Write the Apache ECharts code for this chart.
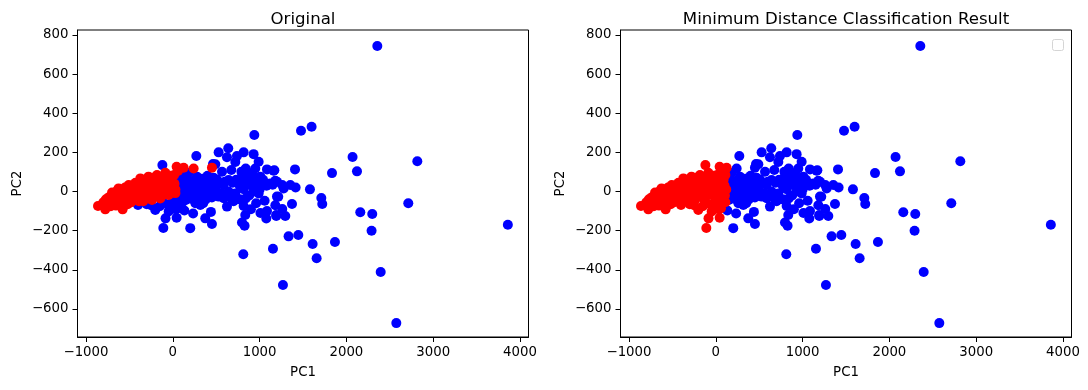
<!DOCTYPE html>
<html><head><meta charset="utf-8">
<style>html,body{margin:0;padding:0;background:#fff}#c{width:1088px;height:390px}</style>
<script src="https://cdn.jsdelivr.net/npm/echarts@6/dist/echarts.min.js"></script>
</head><body><div id="c"></div>
<script>
const xTicks=[-1000,0,1000,2000,3000,4000];
const yTicks=[-600,-400,-200,0,200,400,600,800];
const titles=['Original','Minimum Distance Classification Result'];
const xName='PC1', yName='PC2';
// blue under both panels
const blueBoth=[[2356,743],[3860,-170],[2817,155],[2713,-60],[2395,-411],[2575,-672],
[1477,310],[1599,331],[2071,176],[2122,103],[1834,94],[1408,113],[1161,106],[1580,11],[1415,21],[1354,33],[1261,33],[1277,16],[1181,55],[1150,35],[1215,-27],[1711,-33],[1722,-64],[1373,-64],[1181,-70],[1261,-89],[1192,-125],[1296,-125],[2160,-106],[2298,-115],[2290,-200],[1334,-229],[1446,-222],[1154,-292],[1611,-268],[1868,-258],[1657,-341],[1269,-477],
[939,289],[271,181],[528,200],[639,221],[624,175],[739,181],[720,151],[816,200],[931,191],[989,152],[950,118],[490,139],[463,140],[567,101],[674,110],[840,118],[790,101],[912,93],[1085,113],[1123,41],[1201,50],[1170,109],[1008,76],[854,76],[796,76],[643,59],[586,33],[490,24],[393,41],[278,76],[182,95],[144,25],[989,33],[893,33],[931,0],[989,-10],[778,22],[816,12],[720,-10],[643,0],[528,-26],[586,-34],[624,-77],[816,-74],[1058,-47],[1200,-26],[1085,-100],[1077,-138],[1191,-120],[835,-120],[797,-158],[827,-175],[812,-320],[451,-166],[201,-187],[133,-97],[234,-112],[374,-137],[439,-104],
[317,-69],[393,-18],[201,-35],[240,16],[67,25],[317,25],[374,1],[432,16],[278,-9],[182,-9],[86,-9],[10,-18],[150,-43],[260,-60],[350,-60],[110,55],[170,60],[230,50],[290,40],[340,65],[400,80],[430,55],[470,70],[510,60],[550,40],[600,50],[690,45],[730,60],[760,40],[860,50],[920,55],[960,65],[1040,60],[1080,30],[1000,10],[880,-20],[840,-35],[770,-40],[700,-50],[660,-30],[560,-10],[500,0],[450,-30],[380,-40],[300,-20],[220,-20],[140,-20],[190,20],[280,35],[340,20],[410,35],[470,-20],[900,-90],[960,-60],[1010,-110]];
// blue in the first panel, red in the second
const blueToRed=[[-120,135],[-109,-186],[-84,-137],[44,-134],[-202,-94],[-401,-69],[-48,-102],[-150,-75],[-100,-60],[-50,-70],[0,-60],[40,-50],[60,-30],[80,0],[100,30],[60,30],[90,60],[70,80],[110,85],[105,-20],[110,-55],[60,-85],[-20,-90],[-250,-70],[-300,-65],[120,10],[35,-90],[-5,-45]];
// red in the first panel, blue in the second
const redToBlue=[[451,122],[240,118]];
// red under both panels
const redBoth=[[-862,-74],[-816,-69],[-800,-55],[-778,-91],[-770,-40],[-760,-70],[-740,-30],[-730,-55],[-715,-75],[-700,-5],[-695,-40],[-680,-20],[-670,-60],[-655,-72],[-650,-35],[-640,5],[-625,16],[-615,-20],[-610,-50],[-600,-65],[-578,-91],[-590,-5],[-570,10],[-560,-30],[-550,20],[-540,-50],[-530,-10],[-520,-65],[-508,33],[-500,5],[-490,-30],[-480,-55],[-470,30],[-460,15],[-450,-15],[-440,-40],[-430,45],[-420,0],[-410,25],[-400,-30],[-390,-50],[-374,67],[-370,40],[-360,10],[-350,-20],[-340,-50],[-330,60],[-320,30],[-310,0],[-300,-30],[-280,76],[-275,45],[-265,15],[-250,-15],[-240,-43],[-230,70],[-220,40],[-210,10],[-200,-20],[-182,84],[-175,60],[-165,25],[-150,-5],[-144,-35],[-130,75],[-120,45],[-110,15],[-95,-15],[-86,96],[-75,65],[-60,35],[-50,5],[-48,-18],[-30,80],[-20,50],[-10,20],[0,-5],[15,85],[20,40],[30,10],[44,127],[60,105],[30,-8],[125,121]];

const minus=v=>String(v).replace('-','\u2212');
const font='"DejaVu Sans"';
function axes(i){
  const common={gridIndex:i,nameLocation:'middle',
    nameTextStyle:{fontFamily:font,fontSize:13.3,color:'#000'},
    axisLine:{show:true,onZero:false,lineStyle:{color:'#000',width:1}},
    splitLine:{show:false}};
  return {
    x:{...common,type:'value',min:-1098,max:4098,name:xName,nameGap:29,
      axisTick:{show:true,length:5,customValues:xTicks,lineStyle:{color:'#000',width:1}},
      axisLabel:{fontFamily:font,fontSize:13.3,color:'#000',margin:9,customValues:xTicks,formatter:minus}},
    y:{...common,type:'value',min:-743,max:825,name:yName,nameGap:53,
      axisTick:{show:true,length:5,customValues:yTicks,lineStyle:{color:'#000',width:1}},
      axisLabel:{fontFamily:font,fontSize:13.3,color:'#000',margin:9,padding:[2,0,0,0],customValues:yTicks,formatter:minus}}
  };
}
function sc(i,color,data){return {type:'scatter',xAxisIndex:i,yAxisIndex:i,data,symbolSize:10,
  itemStyle:{color,opacity:1},silent:true,animation:false};}
const a0=axes(0),a1=axes(1);
const chart=echarts.init(document.getElementById('c'),null,{renderer:'canvas'});
chart.setOption({
  animation:false,backgroundColor:'#fff',
  title:[0,1].map(i=>({text:titles[i],left:i?841:298,top:6,textAlign:'center',
    textStyle:{fontFamily:font,fontSize:16.6,fontWeight:'normal',color:'#000'}})),
  grid:[
    {left:77.5,top:30,width:451,height:307,show:true,borderColor:'#000',borderWidth:1,backgroundColor:'#fff'},
    {left:620.5,top:30,width:451,height:307,show:true,borderColor:'#000',borderWidth:1,backgroundColor:'#fff'}],
  xAxis:[a0.x,a1.x],yAxis:[a0.y,a1.y],
  series:[
    sc(0,'#0000ff',blueBoth.concat(blueToRed)),
    sc(0,'#ff0000',redBoth.concat(redToBlue)),
    sc(1,'#0000ff',blueBoth.concat(redToBlue)),
    sc(1,'#ff0000',redBoth.concat(blueToRed))],
  graphic:[{type:'rect',shape:{x:1052.5,y:39.5,width:11,height:11,r:2},
    style:{fill:'#fff',stroke:'#d5d5d5',lineWidth:1},silent:true}]
});
</script></body></html>
